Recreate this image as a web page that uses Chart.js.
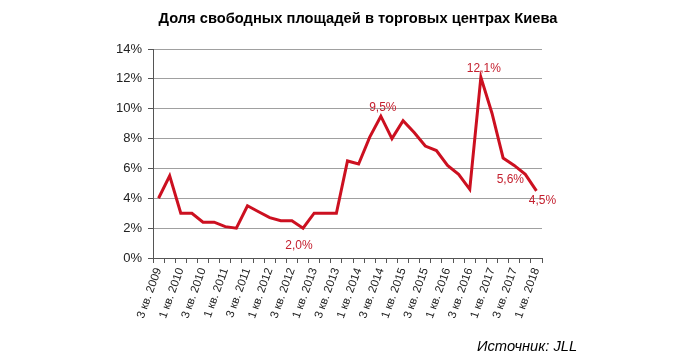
<!DOCTYPE html>
<html>
<head>
<meta charset="utf-8">
<script src="https://cdn.jsdelivr.net/npm/chart.js@4/dist/chart.umd.min.js"></script>
<style>
  html, body { margin: 0; padding: 0; background: #fff; }
  #wrap { position: relative; width: 681px; height: 359px; }
  #c { position: absolute; left: 0; top: 0; }
  #title { position: absolute; left: 148px; top: 10px; width: 420px; text-align: center;
    font: bold 14.7px "Liberation Sans", Arial, sans-serif; color: #000; white-space: nowrap; }
  #source { position: absolute; left: 477px; top: 338px;
    font: italic 14.7px "Liberation Sans", Arial, sans-serif; color: #000; white-space: nowrap; }
</style>
</head>
<body>
<div id="wrap">
  <canvas id="c" width="681" height="359"></canvas>
  <div id="title">Доля свободных площадей в торговых центрах Киева</div>
  <div id="source">Источник: JLL</div>
</div>
<script>
const categories = [
  "3 кв. 2009","4 кв. 2009",
  "1 кв. 2010","2 кв. 2010","3 кв. 2010","4 кв. 2010",
  "1 кв. 2011","2 кв. 2011","3 кв. 2011","4 кв. 2011",
  "1 кв. 2012","2 кв. 2012","3 кв. 2012","4 кв. 2012",
  "1 кв. 2013","2 кв. 2013","3 кв. 2013","4 кв. 2013",
  "1 кв. 2014","2 кв. 2014","3 кв. 2014","4 кв. 2014",
  "1 кв. 2015","2 кв. 2015","3 кв. 2015","4 кв. 2015",
  "1 кв. 2016","2 кв. 2016","3 кв. 2016","4 кв. 2016",
  "1 кв. 2017","2 кв. 2017","3 кв. 2017","4 кв. 2017",
  "1 кв. 2018"
];
const vacancy = [
  4.0, 5.5,
  3.0, 3.0, 2.4, 2.4,
  2.1, 2.0, 3.5, 3.1,
  2.7, 2.5, 2.5, 2.0,
  3.0, 3.0, 3.0, 6.5,
  6.3, 8.1, 9.5, 8.0,
  9.2, 8.4, 7.5, 7.2,
  6.2, 5.6, 4.6, 12.1,
  9.7, 6.7, 6.2, 5.6,
  4.5
];
const yTicks = [0, 2, 4, 6, 8, 10, 12, 14];
// annotated points: index, text
const labelIdx = [13, 20, 29, 33, 34];
const labelText = ["2,0%", "9,5%", "12,1%", "5,6%", "4,5%"];
const labelOffset = [[-4, 18], [2, -8], [3, -9], [-15, 5], [6, 10]];

const FONT = "'Liberation Sans', Arial, sans-serif";

const valueLabels = {
  id: 'valueLabels',
  afterDatasetsDraw(chart) {
    const meta = chart.getDatasetMeta(0);
    const ctx = chart.ctx;
    ctx.save();
    ctx.font = "12px " + FONT;
    ctx.fillStyle = "#c4202f";
    ctx.textAlign = "center";
    ctx.textBaseline = "middle";
    labelIdx.forEach((idx, k) => {
      const p = meta.data[idx];
      ctx.fillText(labelText[k], p.x + labelOffset[k][0], p.y + labelOffset[k][1]);
    });
    ctx.restore();
  }
};

new Chart(document.getElementById('c'), {
  type: 'line',
  data: {
    labels: categories,
    datasets: [{
      data: vacancy,
      borderColor: '#cc1020',
      borderWidth: 3,
      pointRadius: 0,
      tension: 0,
      fill: false,
      borderJoinStyle: 'miter'
    }]
  },
  options: {
    responsive: false,
    animation: false,
    devicePixelRatio: 1,
    layout: { padding: { left: 0, right: 139, top: 49, bottom: 0 } },
    plugins: { legend: { display: false }, tooltip: { enabled: false }, title: { display: false } },
    scales: {
      x: {
        offset: true,
        grid: { offset: true, drawOnChartArea: false, drawTicks: true, tickLength: 5, color: '#555' },
        border: { color: '#555', width: 1 },
        ticks: {
          autoSkip: false,
          minRotation: 70, maxRotation: 70,
          padding: 3,
          color: '#222',
          font: { family: FONT, size: 11.5 },
          callback: function(v, i) { return i % 2 === 0 ? categories[i] : ''; }
        },
        afterFit(scale) { scale.height = 101; }
      },
      y: {
        min: 0, max: 14,
        afterBuildTicks(scale) { scale.ticks = yTicks.map(v => ({ value: v })); },
        grid: { color: '#a0a0a0', lineWidth: 1, drawTicks: true, tickLength: 5, tickColor: '#555' },
        border: { color: '#555', width: 1 },
        ticks: {
          padding: 6,
          color: '#222',
          font: { family: FONT, size: 13 },
          callback: v => v + '%'
        },
        afterFit(scale) { scale.width = 153; }
      }
    }
  },
  plugins: [valueLabels]
});
</script>
</body>
</html>
